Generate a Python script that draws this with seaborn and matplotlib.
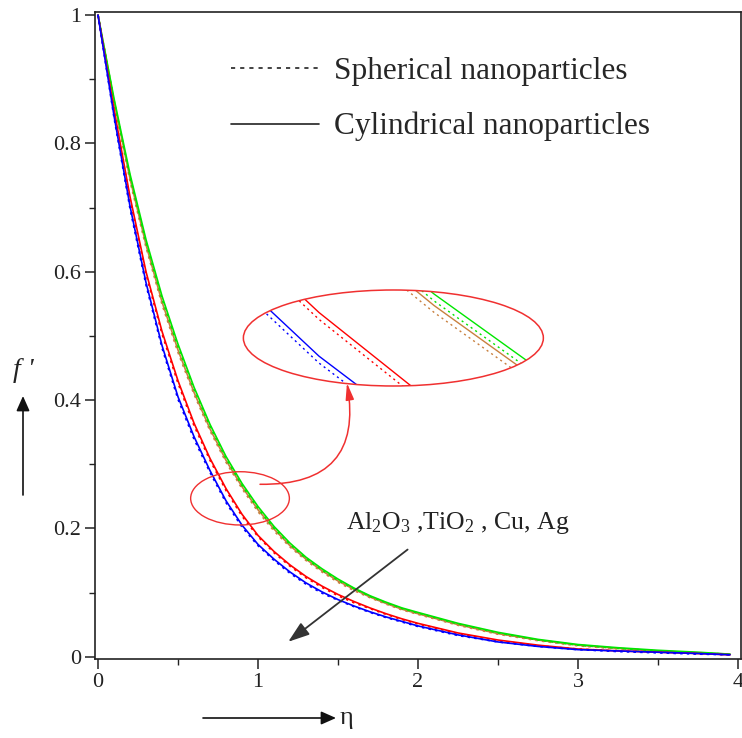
import pandas as pd
import matplotlib
matplotlib.use("Agg")
import matplotlib.pyplot as plt
from matplotlib.lines import Line2D
from matplotlib.patches import Ellipse
from matplotlib.ticker import MultipleLocator
import seaborn as sns

# similarity variable and velocity profiles f'(eta)
eta = [0.0, 0.1, 0.2, 0.3, 0.4, 0.5, 0.6, 0.7, 0.8, 0.9, 1.0,
       1.1, 1.2, 1.3, 1.4, 1.5, 1.6, 1.7, 1.8, 1.9, 2.0,
       2.25, 2.5, 2.75, 3.0, 3.25, 3.5, 3.75, 3.95]

blue_cyl = [1.0, 0.843, 0.702, 0.583, 0.485, 0.405, 0.343, 0.290, 0.243, 0.205, 0.175,
            0.152, 0.132, 0.115, 0.101, 0.089, 0.079, 0.070, 0.062, 0.055, 0.048,
            0.034, 0.023, 0.016, 0.011, 0.009, 0.007, 0.005, 0.003]
blue_sph = [1.0, 0.840, 0.698, 0.579, 0.481, 0.401, 0.339, 0.287, 0.240, 0.202, 0.173,
            0.150, 0.130, 0.113, 0.099, 0.088, 0.078, 0.069, 0.061, 0.054, 0.047,
            0.033, 0.023, 0.016, 0.011, 0.008, 0.006, 0.004, 0.003]
red_cyl = [1.0, 0.853, 0.717, 0.600, 0.507, 0.430, 0.364, 0.309, 0.262, 0.222, 0.189,
           0.164, 0.143, 0.125, 0.110, 0.097, 0.086, 0.076, 0.067, 0.059, 0.052,
           0.037, 0.026, 0.018, 0.012, 0.009, 0.007, 0.005, 0.003]
red_sph = [1.0, 0.850, 0.713, 0.596, 0.503, 0.426, 0.360, 0.306, 0.259, 0.219, 0.187,
           0.162, 0.141, 0.123, 0.108, 0.095, 0.084, 0.075, 0.066, 0.058, 0.051,
           0.036, 0.025, 0.017, 0.012, 0.009, 0.007, 0.005, 0.003]
green_cyl = [1.0, 0.870, 0.752, 0.650, 0.562, 0.487, 0.420, 0.362, 0.312, 0.270, 0.234,
             0.203, 0.177, 0.155, 0.137, 0.121, 0.107, 0.095, 0.085, 0.076, 0.069,
             0.052, 0.038, 0.027, 0.019, 0.014, 0.010, 0.007, 0.004]
green_sph = [1.0, 0.867, 0.748, 0.646, 0.558, 0.483, 0.417, 0.359, 0.309, 0.267, 0.231,
             0.200, 0.175, 0.153, 0.135, 0.119, 0.106, 0.094, 0.084, 0.075, 0.068,
             0.051, 0.037, 0.026, 0.018, 0.013, 0.009, 0.006, 0.004]
brown_cyl = [1.0, 0.866, 0.745, 0.642, 0.553, 0.478, 0.412, 0.355, 0.306, 0.265, 0.229,
             0.199, 0.173, 0.152, 0.134, 0.118, 0.105, 0.093, 0.083, 0.074, 0.067,
             0.050, 0.036, 0.026, 0.018, 0.013, 0.009, 0.006, 0.004]
brown_sph = [1.0, 0.863, 0.741, 0.638, 0.549, 0.474, 0.409, 0.352, 0.303, 0.262, 0.226,
             0.196, 0.171, 0.150, 0.132, 0.116, 0.103, 0.092, 0.082, 0.073, 0.066,
             0.049, 0.035, 0.025, 0.017, 0.012, 0.008, 0.005, 0.003]

fluids = ["brown", "green", "red", "blue"]
colors = {"brown": "#c8803f", "green": "#00e600", "red": "#ff0000", "blue": "#0000ff"}
profiles = {
    ("brown", "Cylindrical"): brown_cyl, ("brown", "Spherical"): brown_sph,
    ("green", "Cylindrical"): green_cyl, ("green", "Spherical"): green_sph,
    ("red", "Cylindrical"): red_cyl, ("red", "Spherical"): red_sph,
    ("blue", "Cylindrical"): blue_cyl, ("blue", "Spherical"): blue_sph,
}

rows = []
for (fluid, shape), vals in profiles.items():
    for e, v in zip(eta, vals):
        rows.append({"fluid": fluid, "shape": shape, "eta": e, "f": v})
df = pd.DataFrame(rows)

sns.set_style("ticks")
plt.rcParams["font.family"] = ["Liberation Serif", "DejaVu Serif"]
plt.rcParams["mathtext.fontset"] = "custom"
plt.rcParams["mathtext.rm"] = "Liberation Serif"
plt.rcParams["mathtext.it"] = "Liberation Serif:italic"

fig = plt.figure(figsize=(7.42, 7.38), dpi=100)
ax = fig.add_axes([0.128, 0.1065, 0.8707, 0.8772])

dot = (1.5, 2.5)
sns.lineplot(data=df, x="eta", y="f", hue="fluid", style="shape", hue_order=fluids,
             style_order=["Cylindrical", "Spherical"], palette=colors,
             dashes={"Cylindrical": "", "Spherical": dot}, linewidth=1.2,
             estimator=None, sort=False, legend=False, ax=ax)

# magnified view inside the big ellipse
eta0, f0 = 0.87, 0.25
xc, yc = 1.885, 0.4935
mx, my = 7.2, 3.58
big = Ellipse((1.846, 0.4967), 1.875, 0.1496, fill=False, ec="#f03030", lw=1.1, zorder=4)
ax.add_patch(big)
small = Ellipse((0.8875, 0.2468), 0.617, 0.083, fill=False, ec="#f03030", lw=1.0, zorder=4)
ax.add_patch(small)
clip = Ellipse((1.846, 0.4967), 1.875, 0.1496, fill=False, lw=0, transform=ax.transData)
for (fluid, shape), vals in profiles.items():
    xs = [xc + (e - eta0) * mx for e in eta]
    ys = [yc + (v - f0) * my for v in vals]
    ls = "-" if shape == "Cylindrical" else (0, dot)
    ln, = ax.plot(xs, ys, color=colors[fluid], lw=1.0, ls=ls, zorder=3)
    ln.set_clip_path(clip)

# connector from small to big ellipse
ax.annotate("", xy=(1.556, 0.4266), xytext=(1.0125, 0.2687),
            arrowprops=dict(arrowstyle="-|>,head_length=1.0,head_width=0.25",
                            color="#f03030", lw=1.1,
                            connectionstyle="arc3,rad=0.6",
                            shrinkA=0, shrinkB=0))

# nanofluid annotation
ax.annotate("", xy=(1.189, 0.0233), xytext=(1.935, 0.167),
            arrowprops=dict(arrowstyle="-|>,head_length=1.3,head_width=0.45",
                            color="#333333", lw=1.3, shrinkA=0, shrinkB=0))
ax.text(1.55, 0.199, r"Al$_2$O$_3$ ,TiO$_2$ , Cu, Ag", fontsize=18.5,
        va="baseline", ha="left", color="#222222")

handles = [Line2D([], [], color="#222222", lw=1.2, ls=(0, (2.5, 3))),
           Line2D([], [], color="#222222", lw=1.2)]
ax.legend(handles, ["Spherical nanoparticles", "Cylindrical nanoparticles"],
          loc="upper left", bbox_to_anchor=(0.211, 0.930), frameon=False,
          fontsize=22.5, handlelength=2.8, handletextpad=0.48, labelspacing=0.82,
          borderpad=0, borderaxespad=0)

ax.set_xlim(-0.019, 4.019)
ax.set_ylim(-0.0042, 1.0047)
ax.xaxis.set_major_locator(MultipleLocator(1))
ax.xaxis.set_minor_locator(MultipleLocator(0.5))
ax.yaxis.set_minor_locator(MultipleLocator(0.1))
ax.set_yticks([0, 0.2, 0.4, 0.6, 0.8, 1.0])
ax.set_yticklabels(["0", "0.2", "0.4", "0.6", "0.8", "1"])
ax.tick_params(which="major", direction="out", length=7, width=1.1, labelsize=16,
               pad=3, colors="#222222")
ax.tick_params(which="minor", direction="out", length=4, width=1.0, colors="#222222")
ax.set_xlabel("")
ax.set_ylabel("")
for sp in ax.spines.values():
    sp.set_visible(True)
    sp.set_linewidth(1.2)
    sp.set_color("#222222")

# axis labels with arrows
fig.text(13 / 742, 1 - 358 / 738, "f '", fontsize=20, fontstyle="italic",
         ha="left", va="top", color="#222222")
ax.annotate("", xy=(23, 738 - 396), xytext=(23, 738 - 495), xycoords="figure pixels",
            textcoords="figure pixels",
            arrowprops=dict(arrowstyle="-|>,head_length=0.9,head_width=0.4",
                            color="#111111", lw=1.2, shrinkA=0, shrinkB=0),
            annotation_clip=False)
ax.annotate("", xy=(336, 20), xytext=(203, 20), xycoords="figure pixels",
            textcoords="figure pixels",
            arrowprops=dict(arrowstyle="-|>,head_length=0.9,head_width=0.4",
                            color="#111111", lw=1.2, shrinkA=0, shrinkB=0),
            annotation_clip=False)
fig.text(340 / 742, 20 / 738, "η", fontsize=19, ha="left", va="center", color="#222222")

fig.savefig("out.png", dpi=100)
